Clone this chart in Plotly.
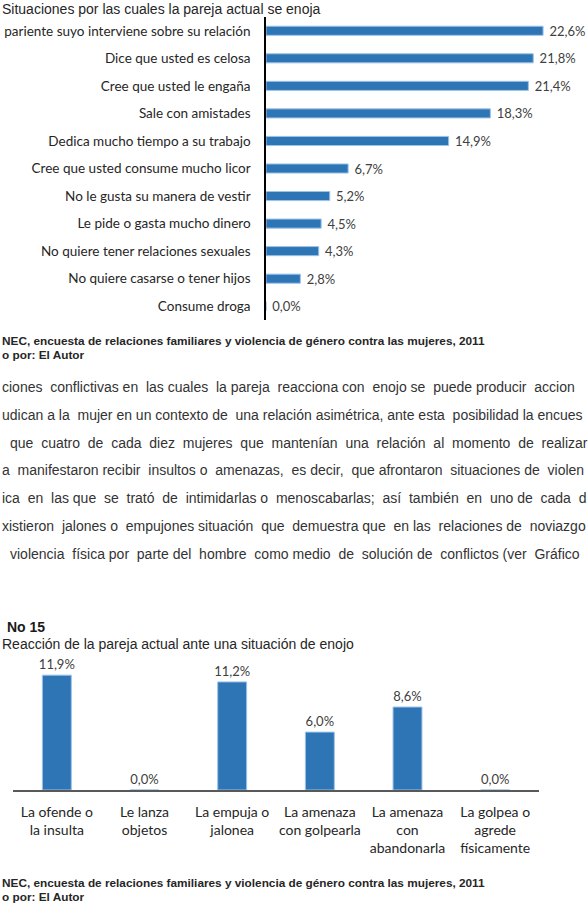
import plotly.graph_objects as go

W, H = 588, 924

# ---- data ----
top_categories = [
    "pariente suyo interviene sobre su relación",
    "Dice que usted es celosa",
    "Cree que usted le engaña",
    "Sale con amistades",
    "Dedica mucho tiempo a su trabajo",
    "Cree que usted consume mucho licor",
    "No le gusta su manera de vestir",
    "Le pide o gasta mucho dinero",
    "No quiere tener relaciones sexuales",
    "No quiere casarse o tener hijos",
    "Consume droga",
]
top_values = [22.6, 21.8, 21.4, 18.3, 14.9, 6.7, 5.2, 4.5, 4.3, 2.8, 0.0]

bottom_categories = [
    "La ofende o<br>la insulta",
    "Le lanza<br>objetos",
    "La empuja o<br>jalonea",
    "La amenaza<br>con golpearla",
    "La amenaza<br>con<br>abandonarla",
    "La golpea o<br>agrede<br>físicamente",
]
bottom_values = [11.9, 0.0, 11.2, 6.0, 8.6, 0.0]

top_title = "Situaciones por las cuales la pareja actual se enoja"
bottom_number = "No 15"
bottom_title = "Reacción de la pareja actual ante una situación de enojo"
source_line = "NEC, encuesta de relaciones familiares y violencia de género contra las mujeres, 2011"
author_line = "o por: El Autor"
paragraph_lines = [
    "ciones conflictivas en las cuales la pareja reacciona con enojo se puede producir accion",
    "udican a la mujer en un contexto de una relación asimétrica, ante esta posibilidad la encues",
    "que cuatro de cada diez mujeres que mantenían una relación al momento de realizar",
    "a manifestaron recibir insultos o amenazas, es decir, que afrontaron situaciones de violen",
    "ica en las que se trató de intimidarlas o menoscabarlas; así también en uno de cada d",
    "xistieron jalones o empujones situación que demuestra que en las relaciones de noviazgo",
    "violencia física por parte del hombre como medio de solución de conflictos (ver Gráfico",
]

BLUE = "#2E75B6"
EDGE = "#9DC3E6"
LABEL_FONT = "Lato, 'Open Sans', sans-serif"
TEXT_FONT = "'Liberation Sans', Arial, sans-serif"


def py(px):
    return 1 - px / H


def px_x(px):
    return px / W


fig = go.Figure()

fig.add_trace(go.Bar(
    x=top_values, y=top_categories, orientation="h",
    marker=dict(color=BLUE, line=dict(color=EDGE, width=1)),
    texttemplate="\u00a0%{x:.1f}%", textposition="outside", constraintext="none",
    textfont=dict(family=LABEL_FONT, size=13, color="#404040"),
    cliponaxis=False, xaxis="x", yaxis="y", showlegend=False,
))

fig.add_trace(go.Bar(
    x=bottom_categories, y=bottom_values,
    marker=dict(color=BLUE, line=dict(color=EDGE, width=1)),
    texttemplate="%{y:.1f}%", textposition="outside", constraintext="none",
    textfont=dict(family=LABEL_FONT, size=13, color="#404040"),
    cliponaxis=False, xaxis="x2", yaxis="y2", showlegend=False,
))

top_px_per = 12.26
bot_px_per = 9.65
x_left, x_right = 266, 588
bx_left, bx_right = 13, 539
b_base, b_top = 790, 660

fig.update_layout(
    width=W, height=H,
    margin=dict(l=0, r=0, t=0, b=0),
    paper_bgcolor="white", plot_bgcolor="white",
    separators=",.",
    bargap=0.67,
    xaxis=dict(domain=[px_x(x_left), px_x(x_right)],
               range=[0, (x_right - x_left) / top_px_per],
               visible=False, anchor="y"),
    yaxis=dict(domain=[py(320), py(17)], type="category",
               autorange="reversed", anchor="x",
               showline=True, linecolor="black", linewidth=1.5,
               ticks="", showgrid=False, ticklabelstandoff=11,
               tickfont=dict(family=LABEL_FONT, size=13.5, color="#262626")),
    xaxis2=dict(domain=[px_x(bx_left), px_x(bx_right)], anchor="y2",
                type="category", showline=True, linecolor="#595959",
                linewidth=2, ticks="", showgrid=False,
                ticklabelstandoff=8,
                tickfont=dict(family=LABEL_FONT, size=14, color="#262626")),
    yaxis2=dict(domain=[py(b_base), py(b_top)], anchor="x2",
                range=[0, (b_base - b_top) / bot_px_per],
                visible=False),
)

anns = []


def add_text(text, xpx, ypx, size, bold=False, color="#1a1a1a", family=TEXT_FONT):
    anns.append(dict(
        text=("<b>%s</b>" % text) if bold else text,
        x=px_x(xpx), y=py(ypx), xref="paper", yref="paper",
        xanchor="left", yanchor="middle", showarrow=False,
        font=dict(family=family, size=size, color=color),
    ))


def justify(line, extra_gaps):
    """Widen `extra_gaps` of the word gaps (evenly spread) with a second space."""
    words = line.split(" ")
    gaps = len(words) - 1
    extra_gaps = max(0, min(extra_gaps, gaps))
    chosen = set()
    if extra_gaps:
        step = gaps / extra_gaps
        chosen = {int(i * step + step / 2) for i in range(extra_gaps)}
    out = words[0]
    for i, w in enumerate(words[1:]):
        out += ("\u00a0\u00a0" if i in chosen else " ") + w
    return out


add_text(top_title, 0, 9, 14, color="#262626")
add_text(source_line, 0, 341, 11.8, bold=True, color="#262626")
add_text(author_line, 0, 355, 11.8, bold=True, color="#262626")

para_y = [387, 415, 443, 470, 498, 526, 554]
para_x = [0, 0, 8, 0, 0, 0, 8]
para_extra = [7, 3, 13, 7, 13, 7, 8]
for line, yy, xx, ex in zip(paragraph_lines, para_y, para_x, para_extra):
    add_text(justify(line, ex), xx, yy, 14, color="#333333")

add_text(bottom_number, 5, 627, 14, bold=True, color="#1a1a1a")
add_text(bottom_title, 0, 644, 14, color="#262626")
add_text(source_line, 0, 883, 11.8, bold=True, color="#262626")
add_text(author_line, 0, 897, 11.8, bold=True, color="#262626")

fig.update_layout(annotations=anns)

fig.write_html("out.html")
